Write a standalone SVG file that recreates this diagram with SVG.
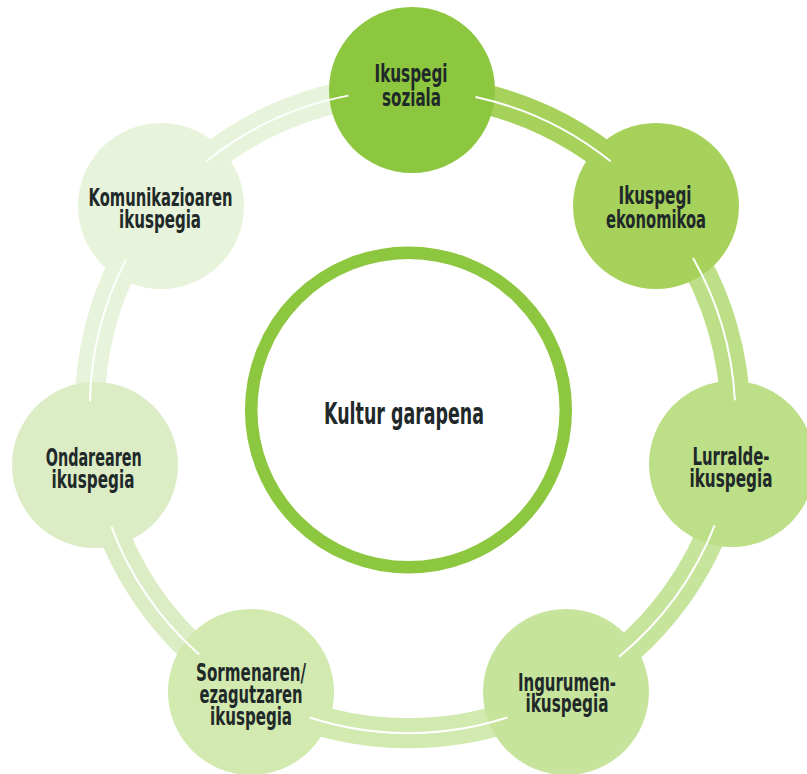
<svg xmlns="http://www.w3.org/2000/svg" width="807" height="774" viewBox="0 0 807 774">
<style>
.band{fill:none;stroke-width:30}
.wl{fill:none;stroke:#ffffff;stroke-width:2;stroke-dashoffset:-64}
.lbl{font-family:"Liberation Sans Narrow","DejaVu Sans Condensed","Liberation Sans",sans-serif;font-weight:bold;font-size:25px;fill:#1f2929;text-anchor:middle}
.ctr{font-size:30px}
</style>
<rect width="807" height="774" fill="#ffffff"/>
<g id="connectors">
<path class="band" stroke="#a6d15b" d="M412 90 A322 322 0 0 1 656 206"/>
<path class="band" stroke="#bcdf87" d="M656 206 A322 322 0 0 1 732 464"/>
<path class="band" stroke="#c7e49c" d="M732 464 A322 322 0 0 1 566 692"/>
<path class="band" stroke="#d2e9b0" d="M566 692 A322 322 0 0 1 251 692"/>
<path class="band" stroke="#dcedc5" d="M251 692 A322 322 0 0 1 95 465"/>
<path class="band" stroke="#e7f3da" d="M95 465 A322 322 0 0 1 161 206"/>
<path class="band" stroke="#e7f3da" d="M161 206 A322 322 0 0 1 412 90"/>
</g>
<g id="center">
<circle cx="408.5" cy="410" r="157.3" fill="#ffffff" stroke="#8dc63f" stroke-width="12.5"/>
<text class="lbl ctr" x="404" y="424" textLength="160" lengthAdjust="spacingAndGlyphs">Kultur garapena</text>
</g>
<g id="node-soziala">
<circle cx="412" cy="90" r="83" fill="#8dc63f"/>
</g>
<g id="node-ekonomikoa">
<circle cx="656" cy="206" r="83" fill="#a6d15b"/>
</g>
<g id="node-lurralde">
<circle cx="732" cy="464" r="83" fill="#bcdf87"/>
</g>
<g id="node-ingurumen">
<circle cx="566" cy="692" r="83" fill="#c7e49c"/>
</g>
<g id="node-sormenaren">
<circle cx="251" cy="692" r="83" fill="#d2e9b0"/>
</g>
<g id="node-ondarearen">
<circle cx="95" cy="465" r="83" fill="#dcedc5"/>
</g>
<g id="node-komunikazioaren">
<circle cx="161" cy="206" r="83" fill="#e7f3da"/>
</g>
<g id="connector-lines">
<path class="wl" stroke-dasharray="150.9 10000" d="M412 90 A322 322 0 0 1 656 206"/>
<path class="wl" stroke-dasharray="149.5 10000" d="M656 206 A322 322 0 0 1 732 464"/>
<path class="wl" stroke-dasharray="163.9 10000" d="M732 464 A322 322 0 0 1 566 692"/>
<path class="wl" stroke-dasharray="201.1 10000" d="M566 692 A322 322 0 0 1 251 692"/>
<path class="wl" stroke-dasharray="156.6 10000" d="M251 692 A322 322 0 0 1 95 465"/>
<path class="wl" stroke-dasharray="147.6 10000" d="M95 465 A322 322 0 0 1 161 206"/>
<path class="wl" stroke-dasharray="157.7 10000" d="M161 206 A322 322 0 0 1 412 90"/>
</g>
<g id="labels">
<text class="lbl" x="411" y="82" textLength="73" lengthAdjust="spacingAndGlyphs">Ikuspegi</text>
<text class="lbl" x="411.5" y="106" textLength="59" lengthAdjust="spacingAndGlyphs">soziala</text>
<text class="lbl" x="655" y="204" textLength="73" lengthAdjust="spacingAndGlyphs">Ikuspegi</text>
<text class="lbl" x="656" y="228" textLength="100" lengthAdjust="spacingAndGlyphs">ekonomikoa</text>
<text class="lbl" x="731" y="465" textLength="77" lengthAdjust="spacingAndGlyphs">Lurralde-</text>
<text class="lbl" x="731" y="487" textLength="83" lengthAdjust="spacingAndGlyphs">ikuspegia</text>
<text class="lbl" x="567" y="691" textLength="98" lengthAdjust="spacingAndGlyphs">Ingurumen-</text>
<text class="lbl" x="567" y="712" textLength="83" lengthAdjust="spacingAndGlyphs">ikuspegia</text>
<text class="lbl" x="251" y="681" textLength="110" lengthAdjust="spacingAndGlyphs">Sormenaren/</text>
<text class="lbl" x="251" y="703" textLength="103" lengthAdjust="spacingAndGlyphs">ezagutzaren</text>
<text class="lbl" x="251" y="725" textLength="82" lengthAdjust="spacingAndGlyphs">ikuspegia</text>
<text class="lbl" x="93.7" y="466" textLength="96" lengthAdjust="spacingAndGlyphs">Ondarearen</text>
<text class="lbl" x="93" y="488" textLength="83" lengthAdjust="spacingAndGlyphs">ikuspegia</text>
<text class="lbl" x="160.5" y="206" textLength="144" lengthAdjust="spacingAndGlyphs">Komunikazioaren</text>
<text class="lbl" x="160" y="228" textLength="82" lengthAdjust="spacingAndGlyphs">ikuspegia</text>
</g>
</svg>
